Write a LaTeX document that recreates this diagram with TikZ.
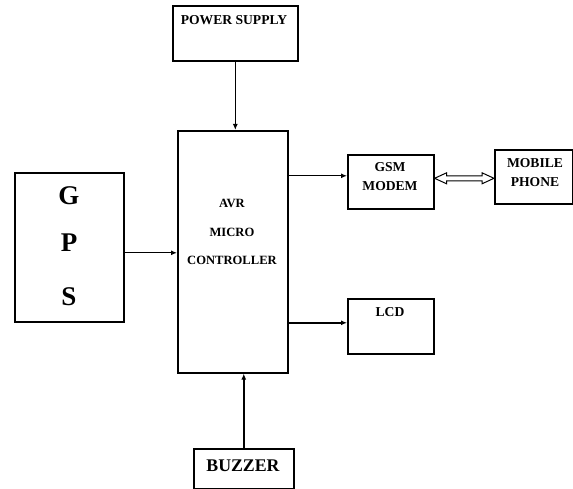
\documentclass[tikz,border=0pt]{standalone}
\usepackage{fontspec}
\setmainfont{Liberation Serif}
\usepackage{tikz}
\usetikzlibrary{
  positioning,
  arrows.meta,
  calc
}
\tikzset{
  block/.style={
    draw, line width=1.6pt,
    anchor=north west,
    inner sep=0pt
  },
  lbl/.style={
    font=\bfseries\fontsize{13.6}{19}\selectfont,
    align=center, inner sep=0pt
  },
  link/.style={-{Latex[length=6pt, width=5pt]}, line width=1.4pt}
}

\begin{document}
\begin{tikzpicture}[
  x=1pt, y=-1pt,
  mculbl/.style={font=\bfseries\fontsize{12.6}{28.5}\selectfont, align=center, inner sep=0pt},
  gpslbl/.style={font=\bfseries\fontsize{27}{30}\selectfont, inner sep=0pt},
  buzlbl/.style={font=\bfseries\fontsize{17.8}{20}\selectfont, inner sep=0pt},
  duplex/.style={line width=1pt, line join=miter},
]
\useasboundingbox (0,0) rectangle (573,489);

% Bloques
\node[block, minimum width=125pt, minimum height=55pt] (psu) at (172,5) {};
\node[block, minimum width=110pt, minimum height=242pt] (mcu) at (177,130) {};
\node[block, minimum width=109pt, minimum height=149pt] (gps) at (14,172) {};
\node[block, minimum width=86pt, minimum height=54pt] (gsm) at (347,154) {};
\node[block, minimum width=78pt, minimum height=54pt] (phone) at (494,149) {};
\node[block, minimum width=86pt, minimum height=55pt] (lcd) at (347,298) {};
\node[block, minimum width=100pt, minimum height=40pt] (buzzer) at (193,448) {};

% Textos
\node[lbl] (psutxt) at (234,20) {POWER SUPPLY};
\node[mculbl] (mcutxt) at (232,232) {AVR\\MICRO\\CONTROLLER};
\node[gpslbl] (gtxt) at (69,196) {G};
\node[gpslbl] (ptxt) at (69,243) {P};
\node[gpslbl] (stxt) at (69,297) {S};
\node[lbl] (gsmtxt) at (390,177) {GSM\\MODEM};
\node[lbl] (phonetxt) at (535,173) {MOBILE\\PHONE};
\node[lbl] (lcdtxt) at (390,312) {LCD};
\node[buzlbl] (buztxt) at (243,466) {BUZZER};

% Conexiones
\draw[link] (psu.south) -- (psu.south |- mcu.north);
\draw[link] ([yshift=-5.5pt]gps.east) -- ([yshift=-5.5pt]gps.east -| mcu.west);
\draw[link] ([yshift=6pt]gsm.west -| mcu.east) -- ([yshift=6pt]gsm.west);
\draw[link] ([yshift=3.5pt]lcd.west -| mcu.east) -- ([yshift=3.5pt]lcd.west);
\draw[link] (buzzer.north) -- (buzzer.north |- mcu.south);

% Flecha doble hueca GSM <-> movil
\coordinate (da) at ([yshift=3.5pt]gsm.east);
\coordinate (db) at (da -| phone.west);
\draw[duplex] (da) -- ++(12,-5.5) -- ++(0,3) -- ($(db)+(-12,-2.5)$) -- ++(0,-3)
  -- (db) -- ++(-12,5.5) -- ++(0,-3) -- ($(da)+(12,2.5)$) -- ++(0,3) -- cycle;

\end{tikzpicture}
\end{document}
